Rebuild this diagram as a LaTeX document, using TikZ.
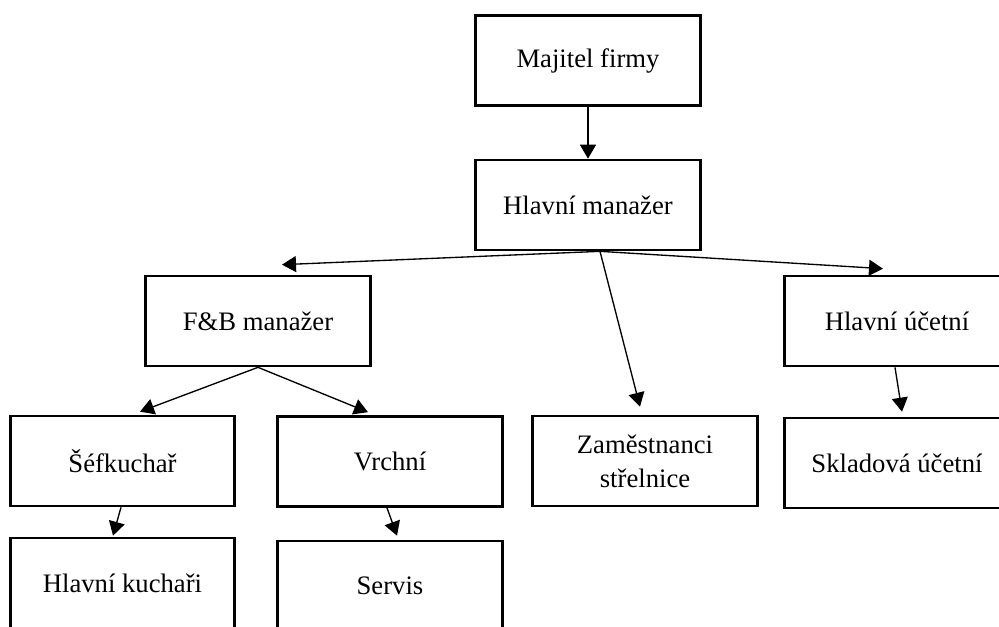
\documentclass[tikz,border=0pt]{standalone}
\usepackage{fontspec}
\setmainfont{Liberation Serif}
\usetikzlibrary{arrows.meta}

\begin{document}
\begin{tikzpicture}[x=0.45pt, y=-0.45pt,
    role/.style={draw, line width=1.2pt, minimum width=101pt, minimum height=40.5pt,
      align=center, font=\fontsize{12}{15.3}\selectfont},
    link/.style={-{Triangle[length=6.3pt,width=7.2pt]}, line width=0.6pt}]
  \useasboundingbox (0,0) rectangle (999,626);

  % boxes of the chart
  \foreach \nm/\x/\y/\txt in {
    maj/588/60.5/{Majitel firmy},
    hm/588/205/{Hlavní manažer},
    fb/258/321/{F\&B manažer},
    hu/897/321/{Hlavní účetní},
    sef/122.5/461/{Šéfkuchař},
    vr/390/461.5/{Vrchní},
    zam/645/461/{Zaměstnanci\\střelnice},
    skl/897/463/{Skladová účetní},
    hk/122.5/583/{Hlavní kuchaři},
    sv/390/586/{Servis}} {
      \node[role] (\nm) at (\x,\y) {\txt};
    }

  % arrows
  \draw[link] (maj.south) -- (hm.north);
  \draw[link] ([shift={(12,0)}]hm.south) -- ([shift={(24,-10)}]fb.north);
  \draw[link] ([shift={(12,0)}]hm.south) -- ([shift={(-5,-8)}]zam.north);
  \draw[link] ([shift={(12,0)}]hm.south) -- ([shift={(-14,-6)}]hu.north);
  \draw[link] (fb.south) -- ([shift={(17.5,-3)}]sef.north);
  \draw[link] (fb.south) -- ([shift={(-22,-3)}]vr.north);
  \draw[link] ([shift={(-1.5,0)}]sef.south) -- ([shift={(-9.5,-1)}]hk.north);
  \draw[link] ([shift={(-3,0)}]vr.south) -- ([shift={(7,-4)}]sv.north);
  \draw[link] ([shift={(-2,0)}]hu.south) -- ([shift={(5,-5)}]skl.north);
\end{tikzpicture}
\end{document}
